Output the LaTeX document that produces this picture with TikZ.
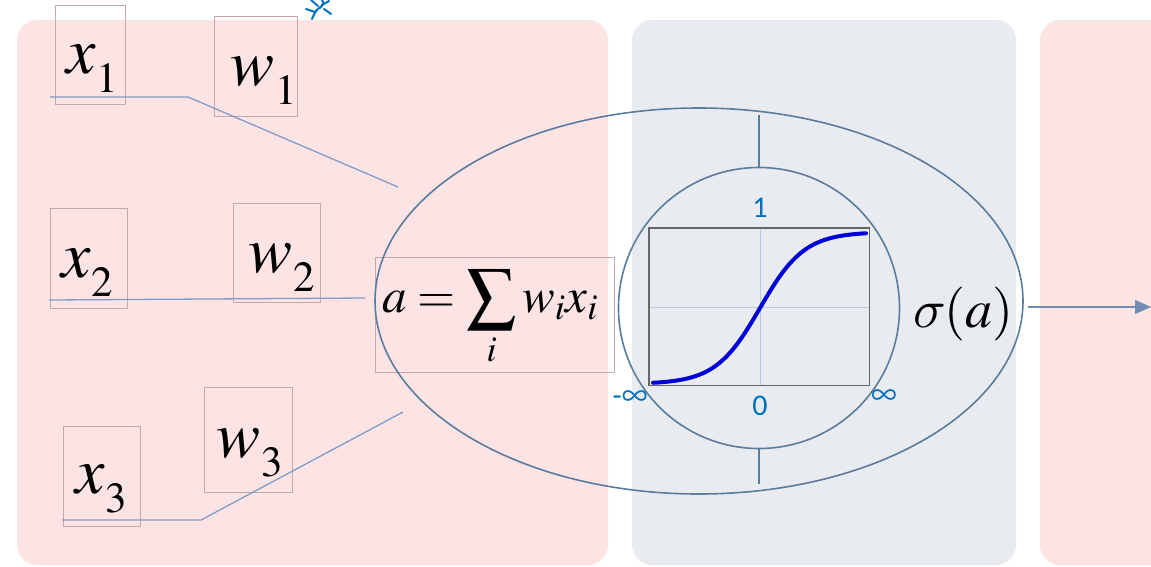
\documentclass[tikz,border=0pt]{standalone}
\usepackage{mathptmx}
\usepackage{graphicx}
\usepackage[no-math]{fontspec}
\newfontfamily\lblfont{Carlito}
\usetikzlibrary{arrows.meta,shapes.geometric}
\definecolor{panelpink}{HTML}{FDE4E4}
\definecolor{panelgray}{HTML}{E8EBF0}
\definecolor{boxline}{HTML}{C4A9AB}
\definecolor{wire}{HTML}{7F9CC8}
\definecolor{ring}{HTML}{5B7C9C}
\definecolor{lblblue}{HTML}{0070C0}
\definecolor{gridblue}{HTML}{B8CCE0}
\newcommand\vsub[2]{{\fontsize{66}{68}\selectfont$#1$}\kern1pt\raisebox{-19pt}{\fontsize{43}{45}\selectfont$\mathrm{#2}$}}
\newcommand\itsigma{\scalebox{5.4}{\fontsize{10}{12}\usefont{OML}{cmm}{m}{it}\char27}}
\tikzset{
  panel/.style={rounded corners=20pt, draw=none},
  varbox/.style={draw=boxline, line width=0.8pt, inner sep=0pt, anchor=north west},
  vartext/.style={inner sep=0pt, anchor=base west},
  wireline/.style={draw=wire, line width=1.3pt},
  ringline/.style={draw=ring, line width=1.6pt},
  axlbl/.style={text=lblblue, font=\lblfont\fontsize{30}{32}\selectfont, inner sep=0pt},
}
\begin{document}
\begin{tikzpicture}[x=1pt,y=-1pt]
\useasboundingbox (0,0) rectangle (1151,566);
\fill[white] (0,0) rectangle (1151,566);
% panels
\fill[panelpink, panel] (17,20) rectangle (608,565);
\fill[panelgray, panel] (632,20) rectangle (1016,565);
\fill[panelpink, panel] (1040,20) rectangle (1180,565);
% small cropped icon at top
\begin{scope}[draw=lblblue, line width=2pt, line cap=round]
\draw (312,19) .. controls (316,10) .. (322,6);
\draw (320,8) .. controls (324,3) .. (322,0);
\draw (315,12) -- (306,9);
\draw (318,6) -- (311,0);
\draw (324,9) -- (331,14);
\draw (322,5) -- (329,1);
\end{scope}
% input and weight boxes
\node[varbox, minimum width=70pt, minimum height=99pt] (bx1) at (55,5) {};
\node[vartext] (x1) at (66,73) {\vsub{x}{1}};
\node[varbox, minimum width=83pt, minimum height=100pt] (bw1) at (214,16) {};
\node[vartext] (w1) at (230,85) {\vsub{w}{1}};
\node[varbox, minimum width=77pt, minimum height=100pt] (bx2) at (50,208) {};
\node[vartext] (x2) at (61,277) {\vsub{x}{2}};
\node[varbox, minimum width=87pt, minimum height=99pt] (bw2) at (233,203) {};
\node[vartext] (w2) at (248,272) {\vsub{w}{2}};
\node[varbox, minimum width=77pt, minimum height=100pt] (bx3) at (63,426) {};
\node[vartext] (x3) at (75,493) {\vsub{x}{3}};
\node[varbox, minimum width=88pt, minimum height=105pt] (bw3) at (204,387) {};
\node[vartext] (w3) at (216,457) {\vsub{w}{3}};
% summation box
\node[varbox, minimum width=239pt, minimum height=115pt] (sumbox) at (375,257) {};
\node[font=\fontsize{49}{54}\selectfont, inner sep=0pt, anchor=base west] (sum) at (382,312) {$a=\displaystyle\sum_i w_i x_i$};
% big ellipse and inner circle
\node[ringline, ellipse, minimum width=648pt, minimum height=386pt, inner sep=0pt] (neuron) at (699,301) {};
\node[ringline, circle, minimum size=281pt, inner sep=0pt] (act) at (759,308) {};
% ticks between ellipse and circle
\coordinate (ttop) at (759,115);
\coordinate (tbot) at (759,484);
\draw[ring, line width=1.2pt] (ttop) -- (act.north);
\draw[ring, line width=1.2pt] (act.south) -- (tbot);
% sigmoid plot
\node[draw=none, fill=panelgray, minimum width=220pt, minimum height=157pt, inner sep=0pt, anchor=north west] (plot) at (649,228) {};
\draw[gridblue, line width=1pt] (760,228) -- (760,385);
\draw[gridblue, line width=1pt] (649,307) -- (869,307);
\draw[blue!85!black, line width=4pt, line cap=round] plot[domain=653:866, samples=90, smooth] (\x, {384-152/(1+exp(-0.045*(\x-760)))});
\draw[black!60, line width=1.6pt] (plot.north west) rectangle (plot.south east);
\node[axlbl] (one) at (760,208) {1};
\node[axlbl] (zero) at (760,406) {0};
\node[axlbl] (minf) at (630,398) {-{\fontsize{36}{38}\selectfont$\infty$}};
\node[axlbl] (pinf) at (884,397) {\fontsize{36}{38}\selectfont$\infty$};
% sigma(a)
\node[inner sep=0pt, anchor=base west] (sig) at (913,327) {\fontsize{54}{56}\selectfont\itsigma$(a)$};
% wires
\coordinate (a1) at (50,97);
\coordinate (b1) at (188,97);
\coordinate (c1) at (398,187);
\coordinate (a2) at (49,300);
\coordinate (c2) at (365,298);
\coordinate (a3) at (62,520);
\coordinate (b3) at (201,520);
\coordinate (c3) at (403,412);
\draw[wireline] (a1) -- (b1) -- (c1);
\draw[wireline] (a2) -- (c2);
\draw[wireline] (a3) -- (b3) -- (c3);
% output arrow
\coordinate (outstart) at (1028,307);
\coordinate (outend) at (1151,307);
\draw[draw=wire!90!black, line width=1.3pt, -{Triangle[length=16pt, width=14pt]}] (outstart) -- (outend);
\end{tikzpicture}
\end{document}
